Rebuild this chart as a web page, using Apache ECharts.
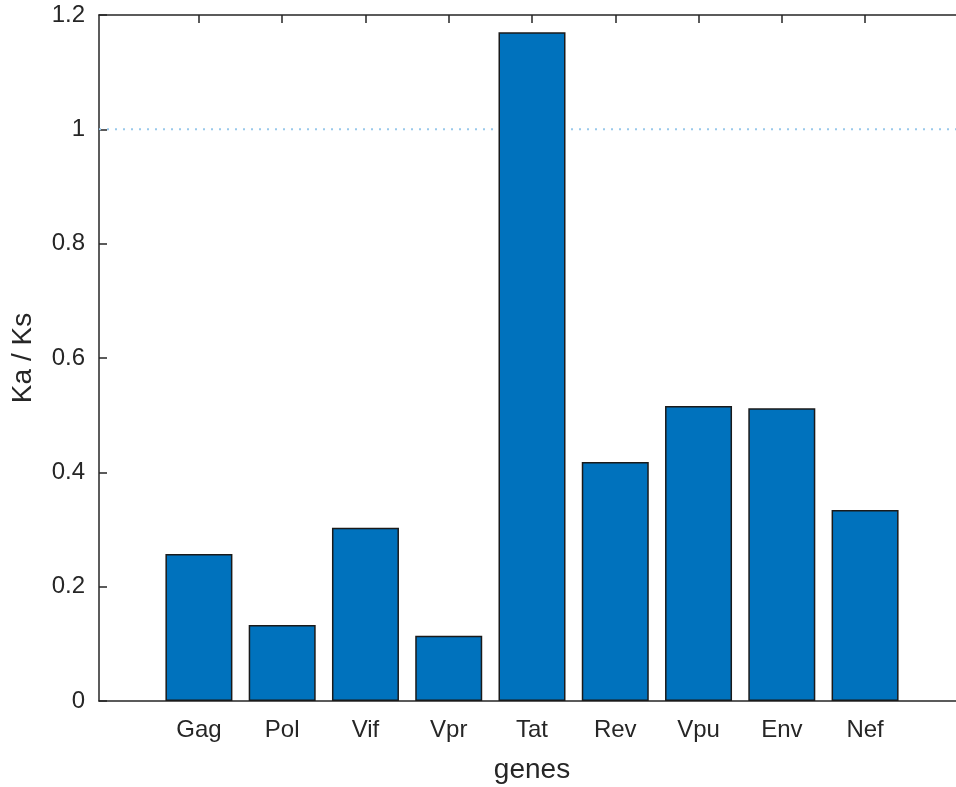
<!DOCTYPE html>
<html>
<head>
<meta charset="utf-8">
<script src="https://cdn.jsdelivr.net/npm/echarts@6/dist/echarts.min.js"></script>
<style>
html,body{margin:0;padding:0;background:#fff;overflow:hidden;width:956px;height:787px;}
#chart{width:975px;height:787px;}
</style>
</head>
<body>
<div id="chart"></div>
<script>
const genes = ['Gag','Pol','Vif','Vpr','Tat','Rev','Vpu','Env','Nef'];
const kaks = [0.257, 0.133, 0.303, 0.114, 1.170, 0.418, 0.516, 0.512, 0.334];
const yTicks = [0, 0.2, 0.4, 0.6, 0.8, 1, 1.2];
const refLine = 1;
const xRange = [-0.2, 10.2];

const positions = genes.map((g, i) => i + 1);
const barData = genes.map((g, i) => [i + 1, kaks[i]]);
const refData = xRange.map(x => [x, refLine]);

const axisColor = '#262626';
const font = 'Liberation Sans, Arial, Helvetica, sans-serif';

const chart = echarts.init(document.getElementById('chart'), null, {renderer: 'canvas'});
chart.setOption({
  animation: false,
  backgroundColor: '#fff',
  grid: {left: 99, top: 15, width: 866, height: 686, containLabel: false, outerBoundsMode: 'none'},
  xAxis: [{
    type: 'value', min: xRange[0], max: xRange[1], position: 'bottom',
    name: 'genes', nameLocation: 'middle', nameGap: 55,
    nameTextStyle: {color: axisColor, fontSize: 28, fontFamily: font},
    axisLine: {show: true, onZero: false, lineStyle: {color: axisColor, width: 1.5}},
    axisTick: {show: true, inside: true, length: 8, customValues: positions, lineStyle: {color: axisColor, width: 1.5}},
    axisLabel: {show: true, customValues: positions, margin: 17, color: axisColor, fontSize: 24, fontFamily: font,
      formatter: v => genes[Math.round(v) - 1] || ''},
    splitLine: {show: false}
  }, {
    type: 'value', min: xRange[0], max: xRange[1], position: 'top',
    axisLine: {show: true, onZero: false, lineStyle: {color: axisColor, width: 1.5}},
    axisTick: {show: true, inside: true, length: 8, customValues: positions, lineStyle: {color: axisColor, width: 1.5}},
    axisLabel: {show: false}, splitLine: {show: false}
  }],
  yAxis: [{
    type: 'value', min: 0, max: 1.2, interval: 0.2, position: 'left',
    name: 'Ka / Ks', nameLocation: 'middle', nameGap: 62,
    nameTextStyle: {color: axisColor, fontSize: 28, fontFamily: font},
    axisLine: {show: true, onZero: false, lineStyle: {color: axisColor, width: 1.5}},
    axisTick: {show: true, inside: true, length: 8, customValues: yTicks, lineStyle: {color: axisColor, width: 1.5}},
    axisLabel: {show: true, customValues: yTicks, margin: 14, padding: [5, 0, 0, 0], color: axisColor, fontSize: 24, fontFamily: font,
      formatter: v => String(Math.round(v * 10) / 10)},
    splitLine: {show: false}
  }, {
    type: 'value', min: 0, max: 1.2, interval: 0.2, position: 'right',
    axisLine: {show: true, onZero: false, lineStyle: {color: axisColor, width: 1.5}},
    axisTick: {show: true, inside: true, length: 8, lineStyle: {color: axisColor, width: 1.5}},
    axisLabel: {show: false}, splitLine: {show: false}
  }],
  series: [{
    type: 'line',
    xAxisIndex: 0, yAxisIndex: 0,
    data: refData,
    symbol: 'none', silent: true, z: 1,
    lineStyle: {color: '#99c9ec', type: [2, 6], width: 2}
  }, {
    type: 'bar',
    xAxisIndex: 0, yAxisIndex: 0,
    data: barData,
    barWidth: 67, z: 3,
    itemStyle: {color: '#0072BD', borderColor: '#1a1a1a', borderWidth: 1.5}
  }]
});
</script>
</body>
</html>
